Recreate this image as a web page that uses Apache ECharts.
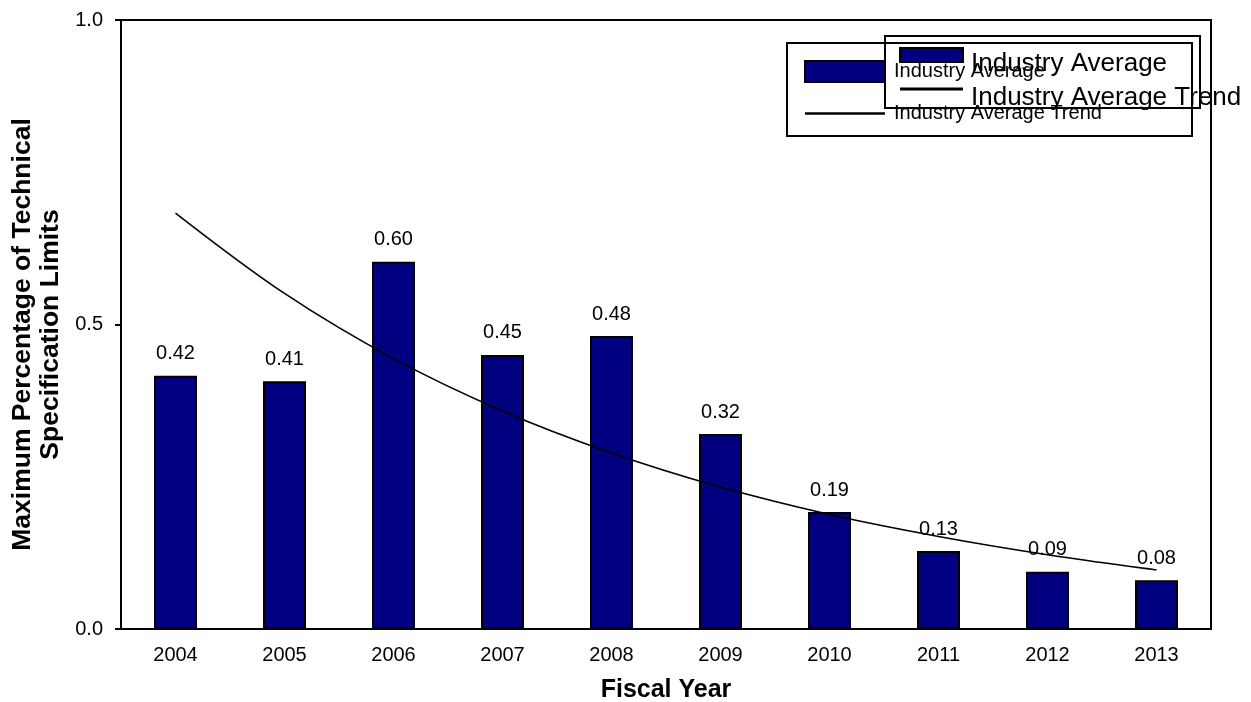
<!DOCTYPE html>
<html>
<head>
<meta charset="utf-8">
<script src="https://cdn.jsdelivr.net/npm/echarts@6/dist/echarts.min.js"></script>
<style>
html,body{margin:0;padding:0;background:#fff;overflow:hidden;}
#chart{width:1251px;height:702px;}
</style>
</head>
<body>
<div id="chart"></div>
<script>
const years = ['2004','2005','2006','2007','2008','2009','2010','2011','2012','2013'];
const industryAverage = [0.416, 0.407, 0.603, 0.450, 0.481, 0.320, 0.192, 0.128, 0.094, 0.080];
const industryTrend = [0.683, 0.551, 0.444, 0.358, 0.289, 0.233, 0.188, 0.152, 0.122, 0.097];
const yTicks = [0, 0.5, 1.0];
const barName = 'Industry Average';
const trendName = 'Industry Average Trend';

const FONT = '"Liberation Sans", Arial, sans-serif';
const chart = echarts.init(document.getElementById('chart'), null, {renderer: 'canvas'});
chart.setOption({
  backgroundColor: '#ffffff',
  animation: false,
  textStyle: {fontFamily: FONT, color: '#000'},
  grid: {left: 121, right: 40, top: 20, bottom: 73, show: true, borderColor: '#000', borderWidth: 2, containLabel: false, outerBoundsMode: 'none'},
  xAxis: {
    type: 'category',
    data: years,
    name: 'Fiscal Year',
    nameLocation: 'middle',
    nameGap: 49,
    nameTextStyle: {fontFamily: FONT, fontSize: 25, fontWeight: 'bold', color: '#000'},
    axisLine: {show: true, lineStyle: {color: '#000', width: 2}},
    axisTick: {show: false},
    axisLabel: {fontFamily: FONT, fontSize: 20, color: '#000', margin: 16},
    splitLine: {show: false}
  },
  yAxis: {
    type: 'value',
    min: yTicks[0],
    max: yTicks[yTicks.length - 1],
    interval: yTicks[1] - yTicks[0],
    name: 'Maximum Percentage of Technical\nSpecification Limits',
    nameLocation: 'middle',
    nameGap: 50,
    nameRotate: 90,
    nameTextStyle: {fontFamily: FONT, fontSize: 26.5, fontWeight: 'bold', color: '#000', lineHeight: 28, align: 'center', padding: [0, 20, 0, 0]},
    axisLine: {show: true, lineStyle: {color: '#000', width: 2}},
    axisTick: {show: true, inside: false, length: 6, lineStyle: {color: '#000', width: 2}},
    axisLabel: {fontFamily: FONT, fontSize: 20, color: '#000', margin: 18, formatter: v => v.toFixed(1)},
    splitLine: {show: false}
  },
  legend: [
    {
      orient: 'vertical',
      left: 804,
      top: 60,
      padding: 0,
      itemWidth: 80,
      itemHeight: 21,
      itemGap: 20.5,
      selectedMode: false,
      textStyle: {fontFamily: FONT, fontSize: 20, color: '#000', padding: [0, 0, 0, 4]},
      data: [
        {name: barName, icon: 'rect'},
        {name: trendName, icon: 'path://M0,0H80V2.5H0Z', itemStyle: {borderWidth: 0}}
      ]
    },
    {
      orient: 'vertical',
      left: 899,
      top: 42,
      padding: 0,
      itemWidth: 63,
      itemHeight: 14,
      itemGap: -1,
      selectedMode: false,
      formatter: name => '{s|}{t|' + name + '}',
      textStyle: {
        fontFamily: FONT, fontSize: 26, color: '#000',
        rich: {
          s: {height: 44, width: 3, fontSize: 26},
          t: {fontFamily: FONT, fontSize: 26, color: '#000', lineHeight: 26, verticalAlign: 'bottom'}
        }
      },
      data: [
        {name: barName, icon: 'rect'},
        {name: trendName, icon: 'path://M0,0H63V3H0Z', itemStyle: {borderWidth: 0}}
      ]
    }
  ],
  graphic: [
    {type: 'rect', z: 100, silent: true, shape: {x: 787, y: 43, width: 405, height: 93}, style: {fill: 'none', stroke: '#000', lineWidth: 2}},
    {type: 'rect', z: 100, silent: true, shape: {x: 885, y: 36, width: 315, height: 72}, style: {fill: 'none', stroke: '#000', lineWidth: 2}}
  ],
  series: [
    {
      name: barName,
      type: 'bar',
      data: industryAverage,
      barWidth: 43,
      itemStyle: {color: '#000080', borderColor: '#000', borderWidth: 2},
      label: {
        show: true,
        position: 'top',
        distance: 12,
        fontFamily: FONT,
        fontSize: 20,
        color: '#000',
        formatter: p => p.value.toFixed(2)
      },
      z: 2
    },
    {
      name: trendName,
      type: 'line',
      data: industryTrend,
      smooth: 0.35,
      symbol: 'none',
      showSymbol: false,
      color: '#000',
      itemStyle: {color: '#000'},
      lineStyle: {color: '#000', width: 1.6},
      z: 3
    }
  ]
});
</script>
</body>
</html>
